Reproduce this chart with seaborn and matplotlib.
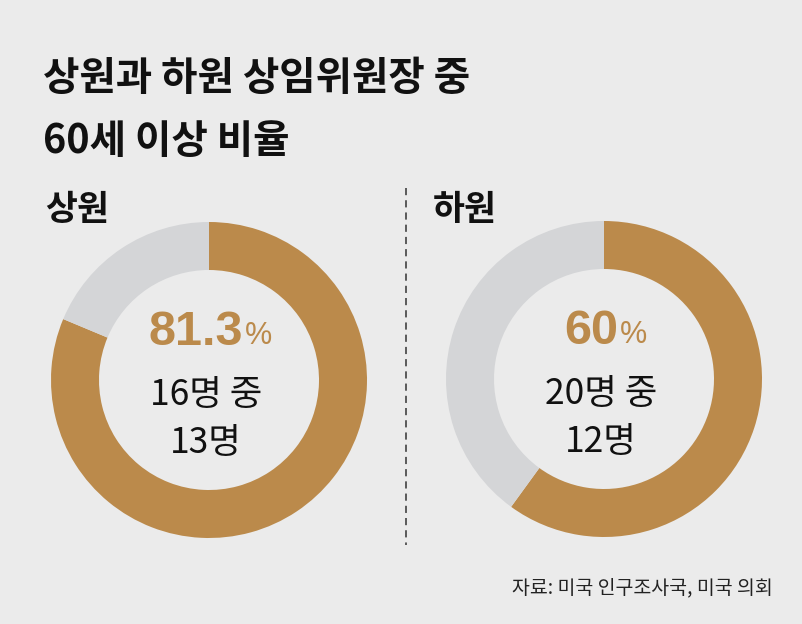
import matplotlib
matplotlib.use("Agg")
import matplotlib.pyplot as plt
import seaborn as sns
from matplotlib.lines import Line2D

# ---- data ----
chambers = ["상원", "하원"]
pct_over60 = [81.3, 60.0]
pct_labels = ["81.3", "60"]
totals = [16, 20]
over60 = [13, 12]
title_lines = ["상원과 하원 상임위원장 중", "60세 이상 비율"]
source = "자료: 미국 인구조사국, 미국 의회"

# ---- style ----
GOLD = "#bb8a4b"
GRAY = "#d4d5d7"
BG = "#ebebeb"

sns.set_theme(style="white", rc={"figure.facecolor": BG, "axes.facecolor": BG})
plt.rcParams["font.family"] = ["Noto Sans CJK KR", "DejaVu Sans"]

W, H = 803, 624
fig = plt.figure(figsize=(W / 100, H / 100), dpi=100)
fig.patch.set_facecolor(BG)


def fx(x):
    return x / W


def fy(y):
    return 1 - y / H


# title
fig.text(fx(43), fy(90), title_lines[0], fontsize=28.5, fontweight="bold",
         color="#111111", va="baseline", ha="left")
fig.text(fx(43), fy(153), title_lines[1], fontsize=28.5, fontweight="bold",
         color="#111111", va="baseline", ha="left")

# donut geometry (pixel centres / radii)
centres = [(209, 380), (604, 379)]
R = 158
ring = 48
label_x = [45, 433]

for i in range(len(chambers)):
    cx, cy = centres[i]
    ax = fig.add_axes([fx(cx - R), fy(cy + R), 2 * R / W, 2 * R / H])
    ax.set_facecolor("none")
    vals = [pct_over60[i], 100 - pct_over60[i]]
    ax.pie(vals, colors=[GOLD, GRAY], startangle=90, counterclock=False,
           radius=1, wedgeprops=dict(width=ring / R, edgecolor="none", linewidth=0))
    ax.set_xlim(-1, 1)
    ax.set_ylim(-1, 1)
    ax.set_aspect("auto")
    ax.axis("off")

    # chamber label
    fig.text(fx(label_x[i]), fy(220), chambers[i], fontsize=25, fontweight="bold",
             color="#111111", va="baseline", ha="left")

    # big percentage
    num_right = cx + (34 if i == 0 else 14)
    fig.text(fx(num_right), fy(cy - 35), pct_labels[i],
             family=["Liberation Sans", "DejaVu Sans"], fontsize=35,
             fontweight="bold", color=GOLD, ha="right", va="baseline")
    fig.text(fx(num_right + 2), fy(cy - 36), "%",
             family=["Liberation Sans", "DejaVu Sans"], fontsize=22,
             color=GOLD, ha="left", va="baseline")

    # counts
    fig.text(fx(cx - 3), fy(cy + 25), f"{totals[i]}명 중", fontsize=25.5,
             color="#111111", ha="center", va="baseline")
    fig.text(fx(cx - 3), fy(cy + 73), f"{over60[i]}명", fontsize=25.5,
             color="#111111", ha="center", va="baseline")

# dashed divider
fig.add_artist(Line2D([fx(406), fx(406)], [fy(188), fy(545)], color="#333333",
                      lw=1.1, dashes=(4.7, 3.3)))

# source
fig.text(fx(773), fy(593), source, fontsize=14, color="#222222",
         ha="right", va="baseline")

fig.savefig("out.png", dpi=100, facecolor=BG)
